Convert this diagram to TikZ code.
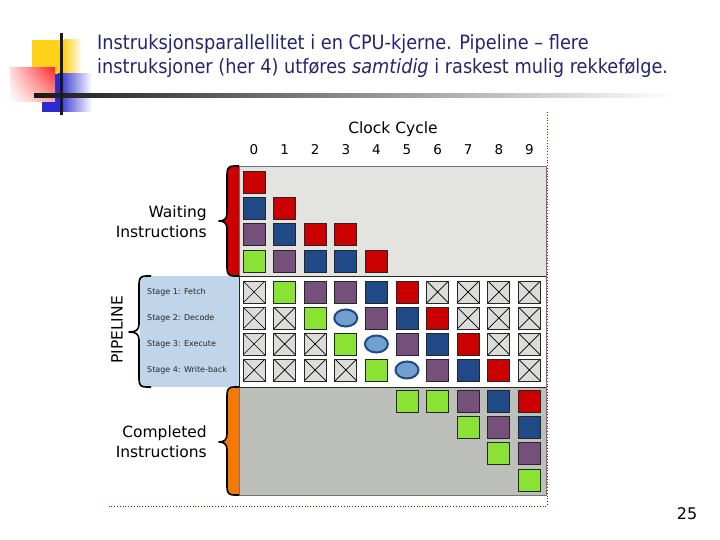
\documentclass[tikz,border=0pt]{standalone}
\usepackage{fontspec}
\setmainfont{DejaVu Sans}
\newfontfamily\titlefont{DejaVu Sans Condensed}
\usetikzlibrary{shapes.geometric,shadings}
\definecolor{tred}{HTML}{CC0000}
\definecolor{tblue}{HTML}{204A87}
\definecolor{tpurple}{HTML}{75507B}
\definecolor{tgreen}{HTML}{8AE234}
\definecolor{torange}{HTML}{F57900}
\definecolor{bubfill}{HTML}{729FCF}
\definecolor{waitbg}{HTML}{E3E3DF}
\definecolor{compbg}{HTML}{BDBFBA}
\definecolor{xfill}{HTML}{DCDCDA}
\definecolor{panelbg}{HTML}{C0D4EA}
\definecolor{titlecol}{HTML}{25256F}
\definecolor{dotred}{HTML}{A01010}
\definecolor{decoyellow}{HTML}{FFD21A}
\definecolor{decoblue}{HTML}{2A2ACF}
\begin{document}
\begin{tikzpicture}[x=1pt,y=-1pt,
  sq/.style={rectangle, minimum size=22pt, inner sep=0pt, draw=black!85, line width=0.8pt},
  sqR/.style={sq, fill=tred},
  sqB/.style={sq, fill=tblue},
  sqP/.style={sq, fill=tpurple},
  sqG/.style={sq, fill=tgreen},
  sqX/.style={sq, fill=xfill, path picture={\draw[black, line width=0.7pt]
     (path picture bounding box.south west) -- (path picture bounding box.north east)
     (path picture bounding box.north west) -- (path picture bounding box.south east);}},
  bub/.style={ellipse, minimum width=23pt, minimum height=17pt, inner sep=0pt, fill=bubfill, draw=tblue, line width=2pt},
  lbl/.style={font=\fontsize{15.5}{20}\selectfont, inner sep=0pt},
  numlbl/.style={font=\fontsize{13.5}{16}\selectfont, inner sep=0pt, anchor=base},
  stagelbl/.style={font=\fontsize{8}{9}\selectfont, inner sep=0pt, text=black!85},
  titlestyle/.style={font=\titlefont\fontsize{19.7}{24}\selectfont, text=titlecol, inner sep=0pt},
  bracefill/.style={draw=black, line width=1.6pt, line join=round}
]
\useasboundingbox (0,0) rectangle (720,540);

% ---------- decoration top-left ----------
\fill[decoyellow] (32,40) rectangle (64,74);
\shade[left color=decoyellow, right color=white] (64,40) rectangle (82,74);
\fill[decoblue] (42,74) rectangle (58,112);
\shade[left color=decoblue, right color=white] (58,74) rectangle (92,112);
\shade[upper left=red!15, upper right=red!85, lower left=white, lower right=red!35] (10,68) rectangle (55,102);
\shade[left color=black!90, right color=white] (34,94) rectangle (672,98);
\fill[black!90] (59.5,33) rectangle (62.5,115);

% ---------- title ----------
\node[titlestyle, anchor=base west] (title1) at (97,50) {Instruksjonsparallellitet i en CPU-kjerne. Pipeline – flere};
\node[titlestyle, anchor=base west] (title2) at (97,74) {instruksjoner (her 4) utføres \textit{samtidig} i raskest mulig rekkefølge.};

% ---------- regions ----------
\fill[waitbg] (239,166) rectangle (546,276);
\fill[white] (239,276) rectangle (546,387);
\fill[compbg] (239,387) rectangle (546,495);
\fill[panelbg] (140,276) rectangle (239,387);
\draw[black!55, line width=0.6pt] (239,166) rectangle (546,495);
\draw[black!85, line width=0.8pt] (239,276) -- (546,276) (239,387) -- (546,387) (239,276) -- (239,387);

% ---------- braces ----------
\fill[tred] (239,166) -- (234,166) .. controls (229,166) and (227,168) .. (227,174) -- (227,213)
  .. controls (227,219) and (224,221) .. (219,221) .. controls (224,221) and (227,223) .. (227,229)
  -- (227,268) .. controls (227,274) and (229,276) .. (234,276) -- (239,276) -- cycle;
\draw[bracefill] (239,166) -- (234,166) .. controls (229,166) and (227,168) .. (227,174) -- (227,213)
  .. controls (227,219) and (224,221) .. (219,221) .. controls (224,221) and (227,223) .. (227,229)
  -- (227,268) .. controls (227,274) and (229,276) .. (234,276) -- (239,276);

\fill[torange] (239,387) -- (234,387) .. controls (229,387) and (227,389) .. (227,395) -- (227,434)
  .. controls (227,440) and (224,442) .. (219,442) .. controls (224,442) and (227,444) .. (227,450)
  -- (227,487) .. controls (227,493) and (229,495) .. (234,495) -- (239,495) -- cycle;
\draw[bracefill] (239,387) -- (234,387) .. controls (229,387) and (227,389) .. (227,395) -- (227,434)
  .. controls (227,440) and (224,442) .. (219,442) .. controls (224,442) and (227,444) .. (227,450)
  -- (227,487) .. controls (227,493) and (229,495) .. (234,495) -- (239,495);

\draw[bracefill] (151,276) -- (146,276) .. controls (141,276) and (139,278) .. (139,284) -- (139,324)
  .. controls (139,330) and (136,332) .. (129,332) .. controls (136,332) and (139,334) .. (139,340)
  -- (139,379) .. controls (139,385) and (141,387) .. (146,387) -- (151,387);

% ---------- labels ----------
\node[lbl] (clk) at (393,129) {Clock Cycle};
\foreach \i in {0,...,9} \node[numlbl] (n\i) at ({254+30.6*\i},155) {\i};
\node[lbl, anchor=east, align=right] (waitlbl) at (207,222) {Waiting\\Instructions};
\node[lbl, anchor=east, align=right] (complbl) at (207,442) {Completed\\Instructions};
\node[lbl, rotate=90] (pipelbl) at (117,330) {PIPELINE};
\node[stagelbl, anchor=west] (st1) at (147,292) {Stage 1: Fetch};
\node[stagelbl, anchor=west] (st2) at (147,318) {Stage 2: Decode};
\node[stagelbl, anchor=west] (st3) at (147,344) {Stage 3: Execute};
\node[stagelbl, anchor=west] (st4) at (147,370) {Stage 4: Write-back};

% ---------- waiting ----------
\foreach \i/\j/\s in {0/0/sqR, 0/1/sqB, 1/1/sqR, 0/2/sqP, 1/2/sqB, 2/2/sqR, 3/2/sqR,
                      0/3/sqG, 1/3/sqP, 2/3/sqB, 3/3/sqB, 4/3/sqR}
  \node[\s] (w-\i-\j) at ({254+30.6*\i},{182+26.3*\j}) {};

% ---------- pipeline ----------
\foreach \s [count=\i from 0] in {sqX,sqG,sqP,sqP,sqB,sqR,sqX,sqX,sqX,sqX}
  \node[\s] (p-\i-0) at ({254+30.6*\i},292) {};
\foreach \s [count=\i from 0] in {sqX,sqX,sqG,bub,sqP,sqB,sqR,sqX,sqX,sqX}
  \node[\s] (p-\i-1) at ({254+30.6*\i},318) {};
\foreach \s [count=\i from 0] in {sqX,sqX,sqX,sqG,bub,sqP,sqB,sqR,sqX,sqX}
  \node[\s] (p-\i-2) at ({254+30.6*\i},344) {};
\foreach \s [count=\i from 0] in {sqX,sqX,sqX,sqX,sqG,bub,sqP,sqB,sqR,sqX}
  \node[\s] (p-\i-3) at ({254+30.6*\i},370) {};

% ---------- completed ----------
\foreach \i/\j/\s in {5/0/sqG, 6/0/sqG, 7/0/sqP, 8/0/sqB, 9/0/sqR, 7/1/sqG, 8/1/sqP, 9/1/sqB,
                      8/2/sqG, 9/2/sqP, 9/3/sqG}
  \node[\s] (c-\i-\j) at ({254+30.6*\i},{401+26.3*\j}) {};

% ---------- dotted frame ----------
\draw[dotred, dotted, line width=0.8pt] (547,112) -- (547,506) -- (108,506);

% ---------- page number ----------
\node[font=\fontsize{16}{18}\selectfont, inner sep=0pt] (pnum) at (687,514) {25};
\end{tikzpicture}
\end{document}
